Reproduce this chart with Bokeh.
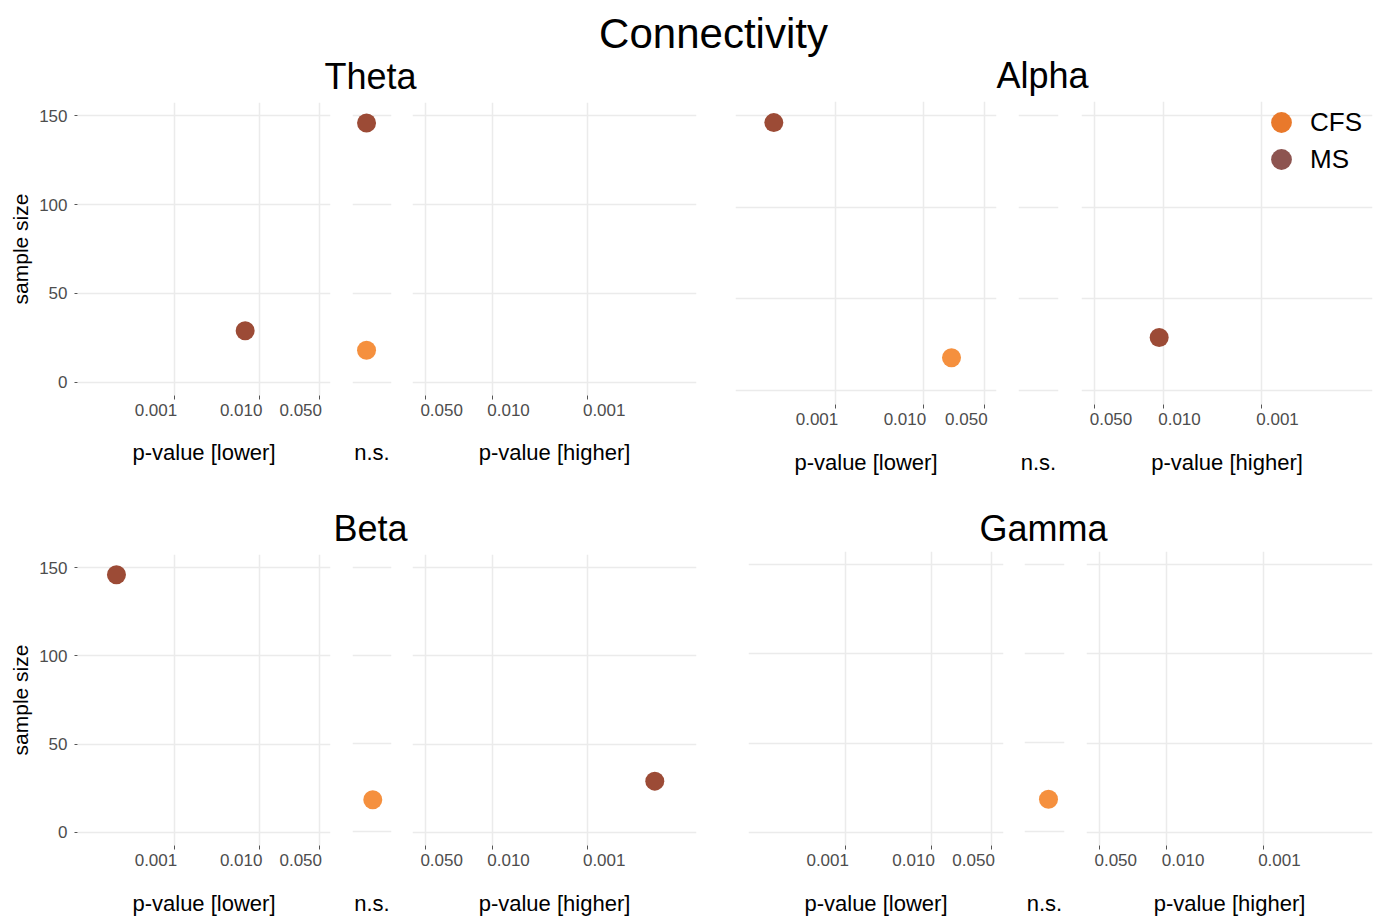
import math
from bokeh.plotting import figure
from bokeh.models import (Range1d, FixedTicker, Legend, LegendItem, LogAxis, Label,
                          CustomJSTickFormatter, ColumnDataSource)
from bokeh.layouts import row, column
from bokeh.embed import file_html
from bokeh.resources import INLINE

FONT = "Liberation Sans"

# ---------------- data ----------------
chart_title = "Connectivity"
bands = ["Theta", "Alpha", "Beta", "Gamma"]
y_title = "sample size"
x_titles = ["p-value [lower]", "n.s.", "p-value [higher]"]
legend_groups = ["CFS", "MS"]

# studies with significantly lower values (p-value, sample size, group)
theta_lower_p = [0.0068]
theta_lower_n = [29]
theta_lower_group = ["MS"]
alpha_lower_p = [0.0002, 0.021]
alpha_lower_n = [146, 18]
alpha_lower_group = ["MS", "CFS"]
beta_lower_p = [0.00021]
beta_lower_n = [146]
beta_lower_group = ["MS"]
gamma_lower_p = []
gamma_lower_n = []
gamma_lower_group = []

# non-significant studies (horizontal jitter inside the n.s. column)
theta_ns_jitter = [-0.28, -0.28]
theta_ns_n = [146, 18]
theta_ns_group = ["MS", "CFS"]
alpha_ns_jitter = []
alpha_ns_n = []
alpha_ns_group = []
beta_ns_jitter = [0.04]
beta_ns_n = [18]
beta_ns_group = ["CFS"]
gamma_ns_jitter = [0.2]
gamma_ns_n = [18]
gamma_ns_group = ["CFS"]

# studies with significantly higher values
theta_higher_p = []
theta_higher_n = []
theta_higher_group = []
alpha_higher_p = [0.011]
alpha_higher_n = [29]
alpha_higher_group = ["MS"]
beta_higher_p = [0.0002]
beta_higher_n = [29]
beta_higher_group = ["MS"]
gamma_higher_p = []
gamma_higher_n = []
gamma_higher_group = []

lower_ticks = [0.001, 0.01, 0.05]
lower_tick_labels = ["0.001", "0.010", "0.050"]
higher_ticks = [0.05, 0.01, 0.001]
higher_tick_labels = ["0.050", "0.010", "0.001"]
y_ticks = [0, 50, 100, 150]
p_limits = [1e-4, 0.05]
n_limits = [0, 150]

POINT_COLORS = {"CFS": "#F5903E", "MS": "#9C4B36"}
LEGEND_COLORS = {"CFS": "#E9792B", "MS": "#8D5450"}
GRID_COLOR = "#EBEBEB"
TICK_TEXT = "#4D4D4D"
TICK_PX = 17
LABEL_W = 2.502 * TICK_PX  # width of "0.001" in Liberation Sans

# ---------------- scales (ggplot-like 5% expansion) ----------------
lg = [math.log10(v) for v in p_limits]
lpad = 0.05 * (lg[1] - lg[0])
x_lo, x_hi = 10 ** (lg[0] - lpad), 10 ** (lg[1] + lpad)
decades = math.log10(x_hi) - math.log10(x_lo)
ypad = 0.05 * (n_limits[1] - n_limits[0])
y_lo, y_hi = n_limits[0] - ypad, n_limits[1] + ypad

# geometry: (left border, frame width, right border) per sub panel
GEOM = {
    "Theta": dict(height=392, top=6, frame_h=293,
                  cols=[(77, 253, 11), (11, 39, 11), (10, 284, 20)], tstand=21, nsstand=44),
    "Alpha": dict(height=392, top=5, frame_h=303,
                  cols=[(19, 261, 11), (11, 40, 11), (12, 291, 6)], tstand=22, nsstand=45),
    "Beta": dict(height=368, top=4, frame_h=294,
                 cols=[(77, 253, 11), (11, 39, 11), (10, 284, 20)], tstand=22, nsstand=46),
    "Gamma": dict(height=368, top=1, frame_h=297,
                  cols=[(32, 255, 11), (10, 40, 11), (11, 286, 6)], tstand=22, nsstand=46),
}


def style_title(ax, text, standoff):
    ax.axis_label = text
    ax.axis_label_text_font = FONT
    ax.axis_label_text_font_size = "22px"
    ax.axis_label_text_font_style = "normal"
    ax.axis_label_text_color = "black"
    ax.axis_label_standoff = standoff


def make_panel(kind, geom, col, xs, ns, groups, yaxis=False):
    bl, fw, br = geom["cols"][col]
    h, bt, fh = geom["height"], geom["top"], geom["frame_h"]
    bb = h - bt - fh
    if kind == "lower":
        xr, xtype = Range1d(x_lo, x_hi), "log"
    elif kind == "higher":
        xr, xtype = Range1d(x_hi, x_lo), "log"
    else:
        xr, xtype = Range1d(-1, 1), "linear"
    p = figure(width=bl + fw + br, height=h, x_range=xr, y_range=Range1d(y_lo, y_hi),
               x_axis_type=xtype, x_axis_location="below",
               y_axis_location="left" if yaxis else None,
               toolbar_location=None, output_backend="svg",
               min_border_left=bl, min_border_right=br,
               min_border_top=bt, min_border_bottom=bb)
    p.frame_align = False
    p.outline_line_color = None
    p.background_fill_color = "white"
    p.border_fill_color = "white"

    for g in p.ygrid:
        g.ticker = FixedTicker(ticks=y_ticks)
        g.grid_line_color = GRID_COLOR
        g.grid_line_width = 1.5

    if yaxis:
        ax = p.yaxis[0]
        ax.ticker = FixedTicker(ticks=y_ticks)
        ax.axis_line_color = None
        ax.major_tick_out = 3
        ax.major_tick_in = 0
        ax.minor_tick_line_color = None
        ax.major_tick_line_color = "#555555"
        ax.major_label_standoff = 7
        ax.major_label_text_font = FONT
        ax.major_label_text_font_size = f"{TICK_PX}px"
        ax.major_label_text_color = TICK_TEXT
        ax.axis_label = y_title
        ax.axis_label_text_font = FONT
        ax.axis_label_text_font_size = "21px"
        ax.axis_label_text_font_style = "normal"
        ax.axis_label_text_color = "black"
        ax.axis_label_standoff = 4

    ax = p.xaxis[0]
    ax.axis_line_color = None
    ax.minor_tick_line_color = None
    if kind == "ns":
        for g in p.xgrid:
            g.visible = False
        ax.ticker = FixedTicker(ticks=[])
        ax.major_tick_line_color = None
        ax.major_label_text_font_size = "1px"
        style_title(ax, x_titles[1], geom["nsstand"])
    else:
        ticks = lower_ticks if kind == "lower" else higher_ticks
        labels = lower_tick_labels if kind == "lower" else higher_tick_labels
        ax.ticker = FixedTicker(ticks=ticks)
        ax.formatter = CustomJSTickFormatter(code="return ''")
        ax.major_label_text_font_size = "1px"
        ax.major_label_standoff = 0
        ax.major_tick_out = 4
        ax.major_tick_in = 0
        ax.major_tick_line_color = "#555555"
        for g in p.xgrid:
            g.ticker = FixedTicker(ticks=ticks)
            g.grid_line_color = GRID_COLOR
            g.grid_line_width = 1.5
        # second axis carrying the tick labels, aligned like ggplot's hjust
        ppd = fw / decades
        if kind == "lower":
            shift = 3 - LABEL_W / 2
            pos = [t * 10 ** (shift / ppd) for t in ticks]
        else:
            shift = -5 + LABEL_W / 2
            pos = [t * 10 ** (-shift / ppd) for t in ticks]
        lab_ax = LogAxis(ticker=FixedTicker(ticks=pos),
                         formatter=CustomJSTickFormatter(
                             args=dict(pos=pos, labels=labels),
                             code="""
let best = 0, bd = Infinity;
for (let i = 0; i < pos.length; i++) {
  const d = Math.abs(Math.log(pos[i]) - Math.log(tick));
  if (d < bd) { bd = d; best = i; }
}
return labels[best];"""))
        lab_ax.axis_line_color = None
        lab_ax.major_tick_line_color = None
        lab_ax.minor_tick_line_color = None
        lab_ax.major_tick_out = 0
        lab_ax.major_tick_in = 0
        lab_ax.major_label_standoff = 4
        lab_ax.major_label_text_font = FONT
        lab_ax.major_label_text_font_size = f"{TICK_PX}px"
        lab_ax.major_label_text_color = TICK_TEXT
        style_title(lab_ax, x_titles[0 if kind == "lower" else 2], geom["tstand"])
        p.add_layout(lab_ax, "below")

    src = ColumnDataSource(dict(x=list(xs), n=list(ns),
                                color=[POINT_COLORS[g] for g in groups]))
    p.scatter("x", "n", source=src, size=19, fill_color="color", line_color=None)
    return p


def make_band(name, lower, ns, higher, yaxis=False, legend=False):
    g = GEOM[name]
    p1 = make_panel("lower", g, 0, *lower, yaxis=yaxis)
    p2 = make_panel("ns", g, 1, *ns)
    p3 = make_panel("higher", g, 2, *higher)
    if legend:
        # one legend per key so that keys can be large but closely spaced
        fh = g["frame_h"]
        for grp, centre_from_top in zip(legend_groups, [21, 58]):
            r = p3.scatter(x=[float("nan")], y=[float("nan")], size=21,
                           fill_color=LEGEND_COLORS[grp], line_color=None)
            leg = Legend(items=[LegendItem(label=grp, renderers=[r])],
                         location=(174, fh - centre_from_top - 26),
                         glyph_width=52, glyph_height=52, padding=0, margin=0,
                         label_standoff=3, label_text_font=FONT,
                         label_text_font_size="26px", label_text_baseline="middle",
                         label_text_color="black", background_fill_alpha=0,
                         border_line_color=None, inactive_fill_alpha=0)
            p3.add_layout(leg)
    return [p1, p2, p3]


def header(h, items):
    p = figure(width=1378, height=h, x_range=Range1d(0, 1), y_range=Range1d(0, 1),
               x_axis_location=None, y_axis_location=None, toolbar_location=None,
               output_backend="svg", min_border=0)
    p.frame_align = False
    p.outline_line_color = None
    for g in p.grid:
        g.visible = False
    for text, x, y, size in items:
        p.add_layout(Label(x=x, y=y, x_units="screen", y_units="screen", text=text,
                           text_align="center", text_baseline="middle", text_font=FONT,
                           text_font_size=size, text_color="black"))
    return p


theta = make_band("Theta",
                  (theta_lower_p, theta_lower_n, theta_lower_group),
                  (theta_ns_jitter, theta_ns_n, theta_ns_group),
                  (theta_higher_p, theta_higher_n, theta_higher_group), yaxis=True)
alpha = make_band("Alpha",
                  (alpha_lower_p, alpha_lower_n, alpha_lower_group),
                  (alpha_ns_jitter, alpha_ns_n, alpha_ns_group),
                  (alpha_higher_p, alpha_higher_n, alpha_higher_group), legend=True)
beta = make_band("Beta",
                 (beta_lower_p, beta_lower_n, beta_lower_group),
                 (beta_ns_jitter, beta_ns_n, beta_ns_group),
                 (beta_higher_p, beta_higher_n, beta_higher_group), yaxis=True)
gamma = make_band("Gamma",
                  (gamma_lower_p, gamma_lower_n, gamma_lower_group),
                  (gamma_ns_jitter, gamma_ns_n, gamma_ns_group),
                  (gamma_higher_p, gamma_higher_n, gamma_higher_group))

head1 = header(96, [(chart_title, 713, 63.5, "42px"),
                    (bands[0], 370, 20, "36px"),
                    (bands[1], 1042, 21, "36px")])
head2 = header(62, [(bands[2], 370, 22, "36px"),
                    (bands[3], 1043, 22, "36px")])

layout = column(head1, row(*theta, *alpha), head2, row(*beta, *gamma))

with open("out.html", "w") as f:
    f.write(file_html(layout, INLINE))
